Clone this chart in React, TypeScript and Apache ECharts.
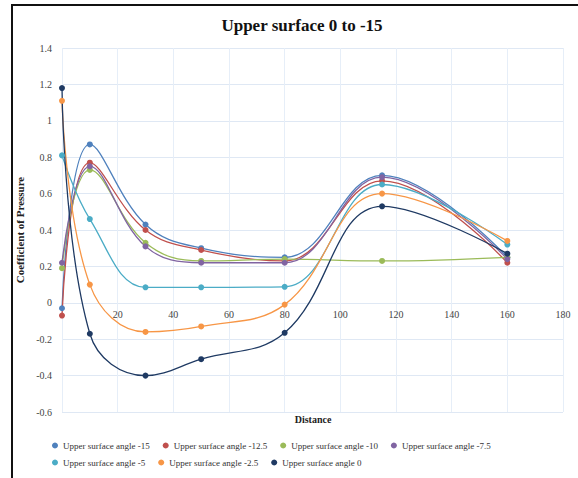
import React, { useEffect, useRef } from "react";
import * as echarts from "echarts";

const distance = [0, 10, 30, 50, 80, 115, 160];
const seriesNames = [
  "Upper surface angle -15",
  "Upper surface angle -12.5",
  "Upper surface angle -10",
  "Upper surface angle -7.5",
  "Upper surface angle -5",
  "Upper surface angle -2.5",
  "Upper surface angle 0",
];
const angleM15 = [-0.03, 0.87, 0.43, 0.3, 0.25, 0.7, 0.25];
const angleM125 = [-0.07, 0.77, 0.4, 0.29, 0.23, 0.67, 0.22];
const angleM10 = [0.19, 0.73, 0.33, 0.23, 0.24, 0.23, 0.25];
const angleM75 = [0.22, 0.75, 0.31, 0.22, 0.22, 0.69, 0.24];
const angleM5 = [0.81, 0.46, 0.085, 0.085, 0.088, 0.65, 0.32];
const angleM25 = [1.11, 0.1, -0.16, -0.13, -0.01, 0.6, 0.34];
const angle0 = [1.18, -0.17, -0.4, -0.31, -0.165, 0.53, 0.27];
const allValues = [angleM15, angleM125, angleM10, angleM75, angleM5, angleM25, angle0];
const colors = ["#4F81BD", "#C0504D", "#9BBB59", "#8064A2", "#4BACC6", "#F79646", "#1F3A63"];

const yMin = -0.6;
const yMax = 1.4;

const FONT = "Liberation Serif";

const GRID_TOP = 48;
const GRID_BOTTOM = 66;
const CHART_H = 478;

export default function App() {
  const ref = useRef<HTMLDivElement>(null);
  useEffect(() => {
    if (!ref.current) return;
    const chart = echarts.init(ref.current, null, { renderer: "svg" });
    const plotH = CHART_H - GRID_TOP - GRID_BOTTOM;
    const zeroOffset = -((0 - yMin) / (yMax - yMin)) * plotH;
    const legendText = { fontFamily: FONT, fontSize: 9, color: "#333" };
    chart.setOption({
      animation: false,
      backgroundColor: "#ffffff",
      color: colors,
      title: {
        text: "Upper surface 0 to -15",
        left: 297,
        textAlign: "center",
        top: 12,
        textStyle: { fontFamily: FONT, fontSize: 17, fontWeight: "bold", color: "#111" },
      },
      graphic: [
        { type: "line", shape: { x1: 12, y1: 5, x2: 578, y2: 5 }, style: { stroke: "#111", lineWidth: 2 } },
        { type: "line", shape: { x1: 12, y1: 4, x2: 12, y2: 478 }, style: { stroke: "#111", lineWidth: 2 } },
        {
          type: "text",
          x: 313,
          y: 419,
          style: {
            text: "Distance",
            fontFamily: FONT,
            fontSize: 10,
            fontWeight: "bold",
            fill: "#222",
            textAlign: "center",
            textVerticalAlign: "middle",
          },
        },
      ],
      legend: [
        {
          left: 47,
          top: 436,
          itemWidth: 6,
          itemHeight: 6,
          itemGap: 13,
          icon: "circle",
          textStyle: legendText,
          data: seriesNames.slice(0, 4),
        },
        {
          left: 47,
          top: 453,
          itemWidth: 6,
          itemHeight: 6,
          itemGap: 13,
          icon: "circle",
          textStyle: legendText,
          data: seriesNames.slice(4),
        },
      ],
      grid: { left: 62, right: 15, top: GRID_TOP, bottom: GRID_BOTTOM },
      xAxis: {
        type: "value",
        min: 0,
        max: 180,
        interval: 20,
        position: "bottom",
        offset: zeroOffset,
        axisLine: { show: false, onZero: false },
        axisTick: { show: false },
        axisLabel: {
          fontFamily: FONT,
          fontSize: 10,
          color: "#444",
          margin: 7,
          formatter: (v: number) => (v === 0 ? "" : String(v)),
        },
        splitLine: { show: true, lineStyle: { color: "#e6eef8", width: 1 } },
      },
      yAxis: {
        type: "value",
        min: yMin,
        max: yMax,
        interval: 0.2,
        name: "Coefficient of Pressure",
        nameLocation: "middle",
        nameGap: 30,
        nameTextStyle: { fontFamily: FONT, fontSize: 11, fontWeight: "bold", color: "#222" },
        axisLine: { show: false },
        axisTick: { show: false },
        axisLabel: {
          fontFamily: FONT,
          fontSize: 10,
          color: "#444",
          margin: 10,
          formatter: (v: number) => String(Math.round(v * 10) / 10),
        },
        splitLine: { show: true, lineStyle: { color: "#dfe8f4", width: 1 } },
      },
      series: seriesNames.map((name, i) => ({
        name,
        type: "line",
        smooth: 0.4,
        symbol: "circle",
        symbolSize: 6,
        lineStyle: { width: 1.3, color: colors[i] },
        itemStyle: { color: colors[i] },
        data: distance.map((d, j) => [d, allValues[i][j]]),
      })),
    });
    return () => chart.dispose();
  }, []);
  return (
    <div
      ref={ref}
      style={{ position: "absolute", left: 0, top: 0, width: 578, height: 478, background: "#fff" }}
    />
  );
}
